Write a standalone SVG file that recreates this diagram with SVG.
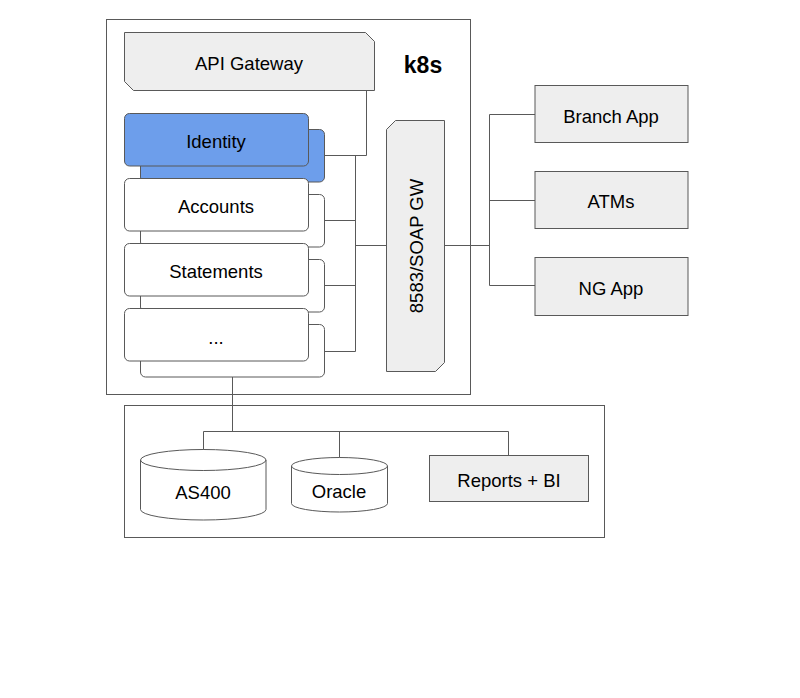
<svg xmlns="http://www.w3.org/2000/svg" width="800" height="698" viewBox="0 0 800 698">
<style>
.s{stroke:#595959;stroke-width:1;}
.g{fill:#eeeeee;}
.w{fill:#ffffff;}
.b{fill:#6d9eeb;}
.n{fill:none;}
text{font-family:"Liberation Sans",Arial,sans-serif;font-size:18.5px;fill:#000;text-anchor:middle;dominant-baseline:central;}
</style>
<rect width="800" height="698" fill="#ffffff"/>
<g id="k8s">
<rect x="106.5" y="19.5" width="364" height="375" class="s w"/>
<text x="423" y="65" style="font-weight:bold;font-size:23px">k8s</text>
</g>
<g id="datastore">
<rect x="124.5" y="405.5" width="480" height="132" class="s w"/>
</g>
<g id="connectors" class="s n">
<polyline points="366.5,90 366.5,155.5 324,155.5"/>
<polyline points="355.5,155.5 355.5,351.5 324,351.5"/>
<line x1="324" y1="220.5" x2="355.5" y2="220.5"/>
<line x1="324" y1="285.5" x2="355.5" y2="285.5"/>
<line x1="355.5" y1="245.5" x2="387" y2="245.5"/>
<line x1="444" y1="245.5" x2="489.5" y2="245.5"/>
<polyline points="535,114.5 489.5,114.5 489.5,285.5 535,285.5"/>
<line x1="489.5" y1="200.5" x2="535" y2="200.5"/>
<line x1="232.5" y1="377" x2="232.5" y2="431.5"/>
<polyline points="203.5,450 203.5,431.5 508.5,431.5 508.5,455.5"/>
<line x1="339.5" y1="431.5" x2="339.5" y2="458"/>
</g>
<g id="api-gateway">
<polygon points="124.5,32.5 365.5,32.5 374.5,41.5 374.5,90.5 133.5,90.5 124.5,81.5" class="s g"/>
<text x="249" y="63">API Gateway</text>
</g>
<g id="identity">
<rect x="140.5" y="129.5" width="184" height="52.5" rx="5" class="s b"/>
<rect x="124.5" y="113.5" width="184" height="52.5" rx="5" class="s b"/>
<text x="216" y="141">Identity</text>
</g>
<g id="accounts">
<rect x="140.5" y="194.5" width="184" height="52.5" rx="5" class="s w"/>
<rect x="124.5" y="178.5" width="184" height="52.5" rx="5" class="s w"/>
<text x="216" y="206">Accounts</text>
</g>
<g id="statements">
<rect x="140.5" y="259.5" width="184" height="52.5" rx="5" class="s w"/>
<rect x="124.5" y="243.5" width="184" height="52.5" rx="5" class="s w"/>
<text x="216" y="271">Statements</text>
</g>
<g id="more">
<rect x="140.5" y="324.5" width="184" height="52.5" rx="5" class="s w"/>
<rect x="124.5" y="308.5" width="184" height="52.5" rx="5" class="s w"/>
<text x="216" y="337">...</text>
</g>
<g id="soap-gw">
<polygon points="395.5,120.5 444.5,120.5 444.5,362.5 435.5,371.5 386.5,371.5 386.5,129.5" class="s g"/>
<text x="416" y="246" transform="rotate(-90 416 246)">8583/SOAP GW</text>
</g>
<g id="branch-app">
<rect x="535" y="85.5" width="153" height="57" class="s g"/>
<text x="611" y="116">Branch App</text>
</g>
<g id="atms">
<rect x="535" y="171.5" width="153" height="57" class="s g"/>
<text x="611" y="201">ATMs</text>
</g>
<g id="ng-app">
<rect x="535" y="257.5" width="153" height="58" class="s g"/>
<text x="611" y="288">NG App</text>
</g>
<g id="as400">
<path d="M140.5,460 L140.5,509.5 A62.75,10.5 0 0 0 266,509.5 L266,460 A62.75,10.5 0 0 0 140.5,460 Z" class="s w"/>
<path d="M140.5,460 A62.75,10.5 0 0 0 266,460" class="s n"/>
<text x="203" y="492">AS400</text>
</g>
<g id="oracle">
<path d="M291.5,466 L291.5,503.5 A48,8.5 0 0 0 387.5,503.5 L387.5,466 A48,8.5 0 0 0 291.5,466 Z" class="s w"/>
<path d="M291.5,466 A48,8.5 0 0 0 387.5,466" class="s n"/>
<text x="339" y="491">Oracle</text>
</g>
<g id="reports">
<rect x="429.5" y="455.5" width="159" height="46" class="s g"/>
<text x="509" y="480">Reports + BI</text>
</g>
</svg>
